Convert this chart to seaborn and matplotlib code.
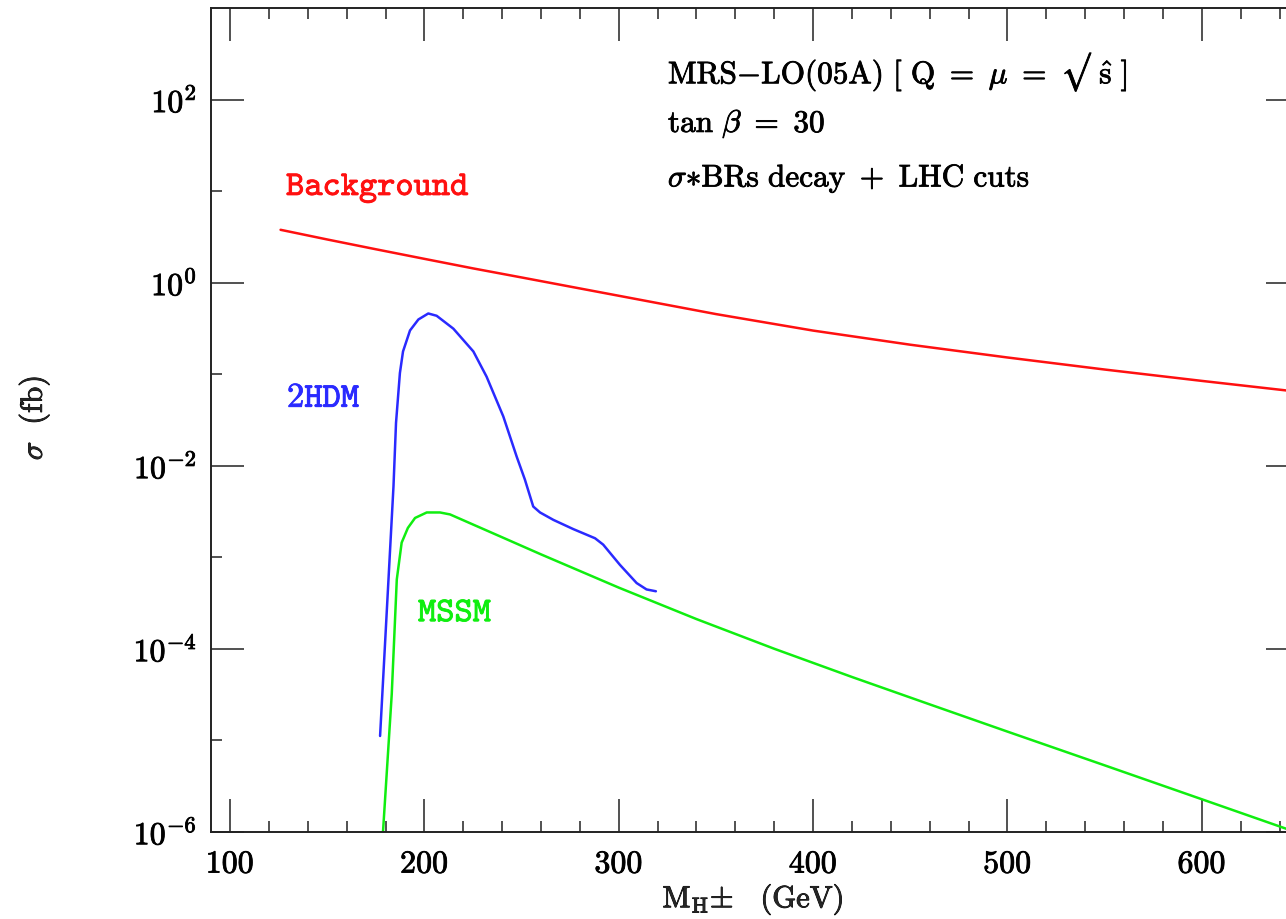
import numpy as np
import pandas as pd
import matplotlib
matplotlib.use("Agg")
import matplotlib.pyplot as plt
import matplotlib.patheffects as pe
from matplotlib.ticker import FixedLocator, FixedFormatter
import seaborn as sns

# Charged Higgs mass (GeV) and cross sections (fb)
bkg_mass = [126, 150, 175, 200, 225, 250, 275, 300, 350, 400, 450, 500, 550, 600, 650]
bkg_sigma = [3.80, 2.98, 2.33, 1.83, 1.44, 1.146, 0.910, 0.723, 0.456, 0.301,
             0.211, 0.153, 0.113, 0.0849, 0.0644]

thdm_mass = [177.2, 184.1, 185.4, 187.4, 189.0, 192.6, 196.9, 202.0, 206.3,
             214.9, 225.2, 232.0, 240.6, 247.5, 251.7, 256.0, 259.5, 266.4, 276.6,
             287.8, 292.0, 300.6, 309.2, 314.3, 319.1]
thdm_sigma = [1.12e-5, 6.0e-3, 2.95e-2, 0.1035, 0.178, 0.302, 0.398, 0.463, 0.437,
              0.316, 0.178, 0.0944, 0.0347, 0.0126, 7.1e-3, 3.6e-3, 3.1e-3, 2.57e-3, 2.04e-3,
              1.62e-3, 1.38e-3, 8.3e-4, 5.25e-4, 4.47e-4, 4.27e-4]

mssm_mass = [178.7, 183.2, 185.8, 188.3, 191.5, 195.2, 201.2, 208.0, 213.2, 225.0,
             238.9, 260.0, 300.0, 340.0, 380.0, 420.0, 460.0, 500.0, 550.0, 600.0, 650.0]
mssm_sigma = [1.0e-6, 3.2e-5, 5.75e-4, 1.45e-3, 2.1e-3, 2.7e-3, 3.1e-3, 3.1e-3, 2.95e-3, 2.29e-3,
              1.70e-3, 1.08e-3, 4.68e-4, 2.12e-4, 1.005e-4, 4.94e-5, 2.48e-5, 1.25e-5,
              5.35e-6, 2.28e-6, 9.7e-7]

x_major = [100, 200, 300, 400, 500, 600]
x_labels = ["100", "200", "300", "400", "500", "600"]
y_major = [1e2, 1e0, 1e-2, 1e-4, 1e-6]
y_labels = [r"$10^{2}$", r"$10^{0}$", r"$10^{-2}$", r"$10^{-4}$", r"$10^{-6}$"]

sns.set_theme(style="ticks")
plt.rcParams["font.family"] = ["DejaVu Serif"]
plt.rcParams["mathtext.fontset"] = "cm"

W, H = 1286, 919
fig = plt.figure(figsize=(W / 100, H / 100), dpi=100)
left, right, top, bottom = 210.6, 1299.0, 8.3, 832.0
ax = fig.add_axes([left / W, 1 - bottom / H, (right - left) / W, (bottom - top) / H])

bkg = pd.DataFrame({"mass": bkg_mass, "sigma": bkg_sigma})
thdm = pd.DataFrame({"mass": thdm_mass, "sigma": thdm_sigma})
mssm = pd.DataFrame({"mass": mssm_mass, "sigma": mssm_sigma})

red, blue, green = "#ff1010", "#2a2aff", "#10ee10"
lw = 1.8
sns.lineplot(data=bkg, x="mass", y="sigma", color=red, lw=lw, ax=ax)
sns.lineplot(data=thdm, x="mass", y="sigma", color=blue, lw=lw, ax=ax)
sns.lineplot(data=mssm, x="mass", y="sigma", color=green, lw=lw, ax=ax)

ax.set_yscale("log")
ax.set_xlim(90, 650)
ax.set_ylim(1e-6, 1e3)

ax.xaxis.set_major_locator(FixedLocator(x_major))
ax.xaxis.set_major_formatter(FixedFormatter([rf"$\mathrm{{{s}}}$" for s in x_labels]))
ax.xaxis.set_minor_locator(FixedLocator(np.arange(100, 660, 20)))
ax.yaxis.set_major_locator(FixedLocator(y_major))
ax.yaxis.set_major_formatter(FixedFormatter(y_labels))
ax.yaxis.set_minor_locator(FixedLocator([1e1, 1e-1, 1e-3, 1e-5]))
ax.yaxis.set_minor_formatter(FixedFormatter([]))

tick_col = "#222222"
ax.tick_params(which="both", direction="in", top=True, right=True, colors=tick_col,
               width=1.1)
ax.tick_params(which="major", length=23.5)
ax.tick_params(which="minor", length=8)
ax.tick_params(axis="x", which="major", pad=12, labelsize=23, labelcolor="black")
ax.tick_params(axis="y", which="major", pad=10, labelsize=23, labelcolor="black")
for s in ax.spines.values():
    s.set_linewidth(1.4)
    s.set_color(tick_col)

heavy = [pe.withStroke(linewidth=0.6, foreground="black")]
for lab in ax.get_xticklabels() + ax.get_yticklabels():
    lab.set_path_effects(heavy)

ax.set_xlabel(r"$\mathrm{M}_{\mathrm{H}}{\pm}\ \ \ \mathrm{(GeV)}$", fontsize=22,
              path_effects=heavy)
ax.set_ylabel(r"$\sigma\ \ \mathrm{(fb)}$", fontsize=22, path_effects=heavy)
ax.xaxis.set_label_coords((753 - left) / (right - left), -(882 - bottom) / (bottom - top))
ax.yaxis.set_label_coords(-(left - 52) / (right - left), (bottom - 418) / (bottom - top))

def tag(x, y, s, color, size):
    ax.text(x, y, s, color=color, fontsize=size, va="center",
            path_effects=[pe.withStroke(linewidth=0.6, foreground=color)])

tag(128.8, 10.8, r"$\mathtt{Background}$", red, 25)
tag(129.3, 0.0568, r"$\mathtt{2HDM}$", blue, 25)
tag(196.7, 2.57e-4, r"$\mathtt{MSSM}$", green, 25)

tag(325.3, 199, "$\\mathrm{MRS{-}LO(05A)}\\ [\\ \\mathrm{Q}\\ =\\ \\mu\\ =\\ \u221a\\ \\hat{\\mathrm{s}}\\ ]$",
    "black", 22.5)
tag(325.3, 53.7, r"$\mathrm{tan}\ \beta\ =\ 30$", "black", 22.5)
tag(325.3, 13.8, r"$\sigma{\ast}\mathrm{BRs\ decay\ +\ LHC\ cuts}$", "black", 22.5)

fig.savefig("out.png", dpi=100, facecolor="white")
